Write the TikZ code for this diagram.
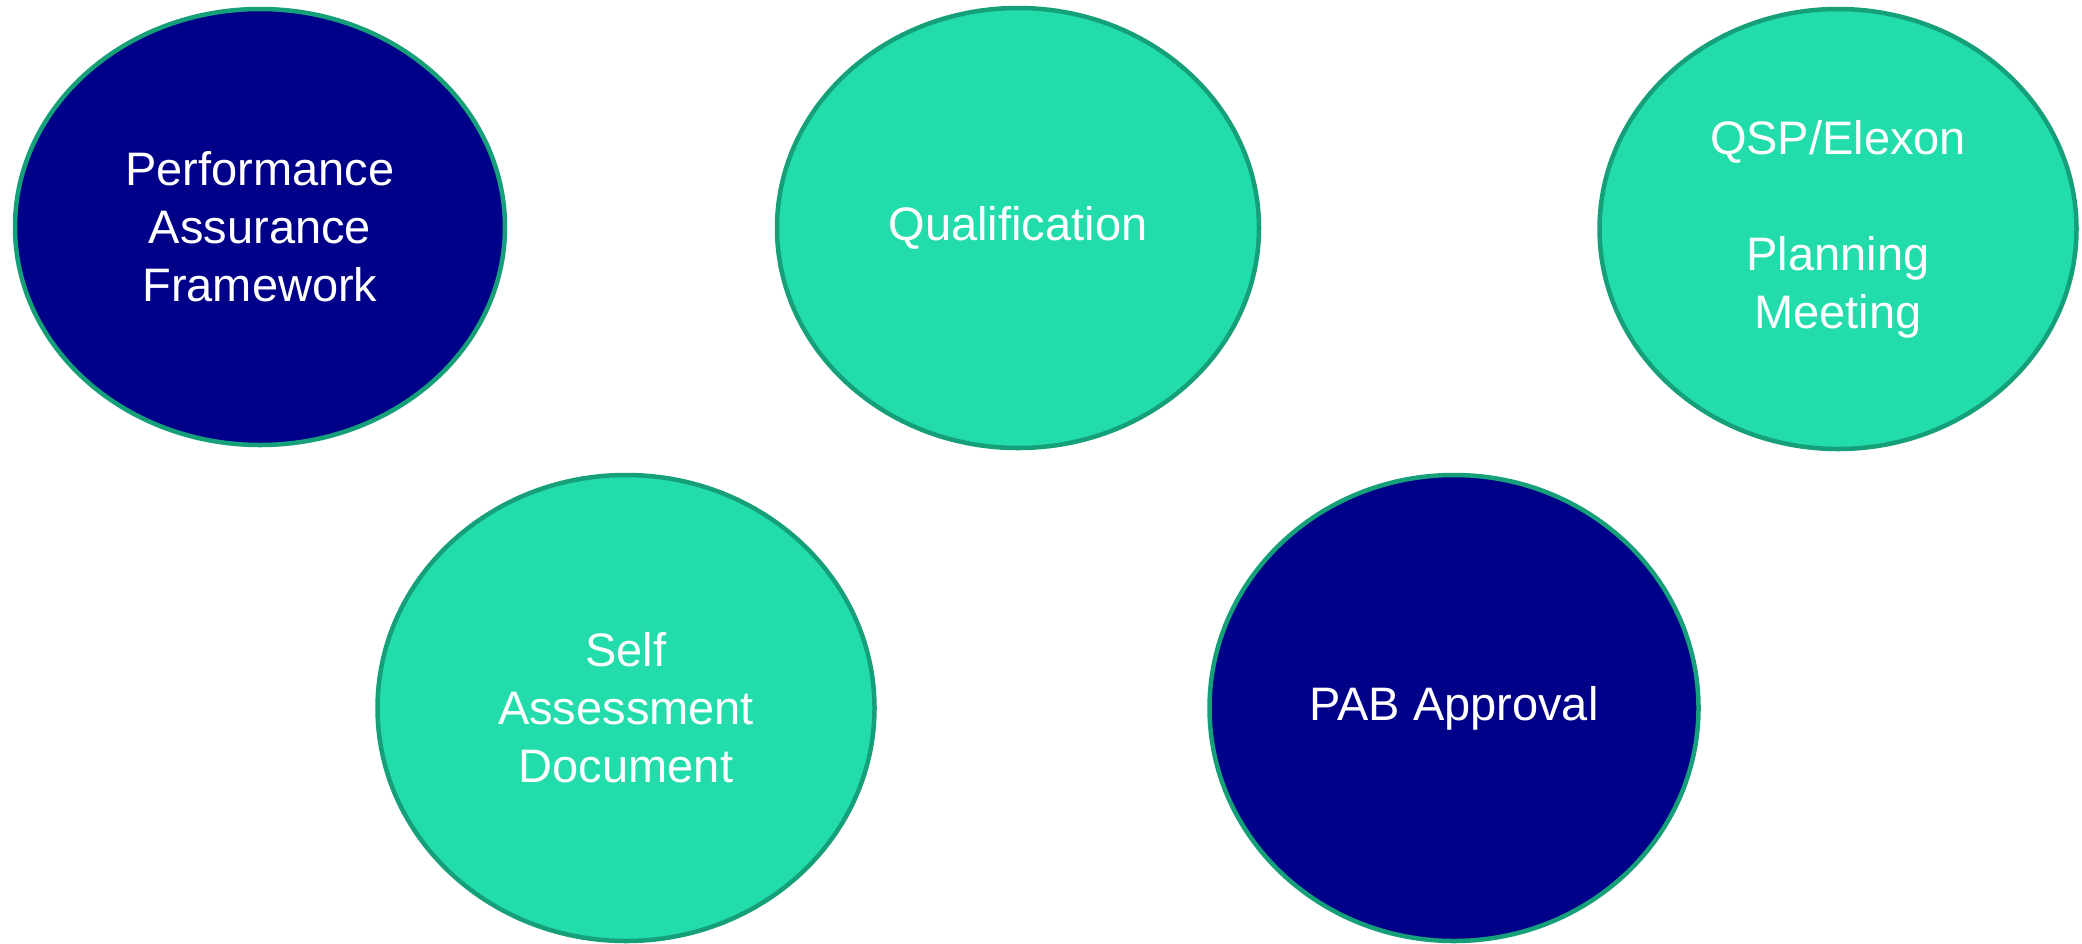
\documentclass[tikz,border=0pt]{standalone}
\usepackage{fontspec}
\setmainfont{Liberation Sans}
\usetikzlibrary{shapes.geometric}
\definecolor{navyfill}{RGB}{0,0,136}
\definecolor{mintfill}{RGB}{34,221,171}
\definecolor{rimgreen}{RGB}{22,160,122}
\tikzset{
  bubble/.style={ellipse, draw=rimgreen, line width=4.5pt, inner sep=0pt,
    text=white, align=center,
    font=\fontsize{47}{58}\selectfont},
  navybubble/.style={bubble, fill=navyfill},
  mintbubble/.style={bubble, fill=mintfill}
}
\begin{document}
\begin{tikzpicture}[x=1pt,y=-1pt]
\useasboundingbox (0,0) rectangle (2082,943);
\node[navybubble, minimum width=490pt, minimum height=436pt] (paf) at (260,227)
  {Performance\\Assurance\\Framework};
\node[mintbubble, minimum width=482pt, minimum height=440pt] (qual) at (1018,228)
  {Qualification};
\node[mintbubble, minimum width=477pt, minimum height=440pt] (qsp) at (1838,229)
  {QSP/Elexon\\\strut\\Planning\\Meeting};
\node[mintbubble, minimum width=497pt, minimum height=466pt] (sad) at (626,708)
  {Self\\Assessment\\Document};
\node[navybubble, minimum width=489pt, minimum height=466pt] (pab) at (1454,708)
  {PAB Approval};
\end{tikzpicture}
\end{document}
